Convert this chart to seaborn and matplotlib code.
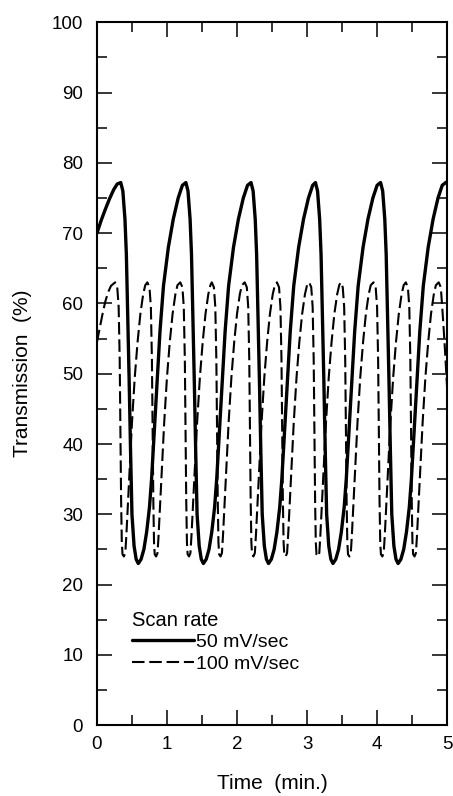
import matplotlib
matplotlib.use("Agg")
import matplotlib.pyplot as plt
from matplotlib.ticker import MultipleLocator
import seaborn as sns

# 50 mV/sec scan (solid)
solid_time = [
    0.00, 0.06, 0.12, 0.18, 0.24, 0.29, 0.34,
    0.37, 0.40, 0.42, 0.44, 0.46, 0.48, 0.50, 0.53, 0.56, 0.59,
    0.63, 0.67, 0.71, 0.75, 0.78, 0.82, 0.86, 0.90, 0.95, 1.02, 1.09, 1.16, 1.22, 1.27,
    1.30, 1.33, 1.35, 1.37, 1.39, 1.41, 1.43, 1.46, 1.49, 1.52,
    1.56, 1.60, 1.64, 1.68, 1.71, 1.75, 1.79, 1.83, 1.88, 1.95, 2.02, 2.09, 2.15, 2.20,
    2.23, 2.26, 2.28, 2.30, 2.32, 2.34, 2.36, 2.39, 2.42, 2.45,
    2.49, 2.53, 2.57, 2.61, 2.64, 2.68, 2.72, 2.76, 2.81, 2.88, 2.95, 3.02, 3.08, 3.12,
    3.15, 3.18, 3.20, 3.22, 3.24, 3.26, 3.28, 3.31, 3.34, 3.37,
    3.41, 3.45, 3.49, 3.53, 3.56, 3.60, 3.64, 3.68, 3.73, 3.80, 3.87, 3.94, 4.00, 4.05,
    4.08, 4.11, 4.13, 4.15, 4.17, 4.19, 4.21, 4.24, 4.27, 4.30,
    4.34, 4.38, 4.42, 4.46, 4.49, 4.53, 4.57, 4.61, 4.66, 4.73, 4.80, 4.87, 4.93, 4.98, 5.00,
]
solid_trans = [
    70.0, 71.8, 73.4, 74.9, 76.2, 77.0, 77.2,
    76.0, 72.0, 67.0, 58.0, 49.0, 39.0, 30.0, 25.5, 23.6, 23.0,
    23.6, 25.0, 27.5, 31.0, 35.0, 42.0, 49.0, 56.0, 62.5, 68.0, 72.0, 75.0, 76.8, 77.2,
    76.0, 72.0, 67.0, 58.0, 49.0, 39.0, 30.0, 25.5, 23.6, 23.0,
    23.6, 25.0, 27.5, 31.0, 35.0, 42.0, 49.0, 56.0, 62.5, 68.0, 72.0, 75.0, 76.8, 77.2,
    76.0, 72.0, 67.0, 58.0, 49.0, 39.0, 30.0, 25.5, 23.6, 23.0,
    23.6, 25.0, 27.5, 31.0, 35.0, 42.0, 49.0, 56.0, 62.5, 68.0, 72.0, 75.0, 76.8, 77.2,
    76.0, 72.0, 67.0, 58.0, 49.0, 39.0, 30.0, 25.5, 23.6, 23.0,
    23.6, 25.0, 27.5, 31.0, 35.0, 42.0, 49.0, 56.0, 62.5, 68.0, 72.0, 75.0, 76.8, 77.2,
    76.0, 72.0, 67.0, 58.0, 49.0, 39.0, 30.0, 25.5, 23.6, 23.0,
    23.6, 25.0, 27.5, 31.0, 35.0, 42.0, 49.0, 56.0, 62.5, 68.0, 72.0, 75.0, 76.8, 77.2, 77.3,
]

# 100 mV/sec scan (dashed)
dashed_time = [
    0.00, 0.04, 0.08, 0.12, 0.16, 0.20,
    0.26, 0.29, 0.31, 0.325, 0.335, 0.345, 0.355, 0.365, 0.385, 0.405, 0.42, 0.44, 0.47, 0.50, 0.54, 0.58, 0.62, 0.66, 0.69,
    0.72, 0.75, 0.77, 0.785, 0.795, 0.805, 0.815, 0.825, 0.845, 0.865, 0.88, 0.90, 0.93, 0.96, 1.00, 1.04, 1.08, 1.12, 1.15,
    1.19, 1.22, 1.24, 1.255, 1.265, 1.275, 1.285, 1.295, 1.315, 1.335, 1.35, 1.37, 1.40, 1.43, 1.47, 1.51, 1.55, 1.59, 1.62,
    1.64, 1.67, 1.69, 1.705, 1.715, 1.725, 1.735, 1.745, 1.765, 1.785, 1.80, 1.82, 1.85, 1.88, 1.92, 1.96, 2.00, 2.04, 2.07,
    2.11, 2.14, 2.16, 2.175, 2.185, 2.195, 2.205, 2.215, 2.235, 2.255, 2.27, 2.29, 2.32, 2.35, 2.39, 2.43, 2.47, 2.51, 2.54,
    2.57, 2.60, 2.62, 2.635, 2.645, 2.655, 2.665, 2.675, 2.695, 2.715, 2.73, 2.75, 2.78, 2.81, 2.85, 2.89, 2.93, 2.97, 3.00,
    3.03, 3.06, 3.08, 3.095, 3.105, 3.115, 3.125, 3.135, 3.155, 3.175, 3.19, 3.21, 3.24, 3.27, 3.31, 3.35, 3.39, 3.43, 3.46,
    3.48, 3.51, 3.53, 3.545, 3.555, 3.565, 3.575, 3.585, 3.605, 3.625, 3.64, 3.66, 3.69, 3.72, 3.76, 3.80, 3.84, 3.88, 3.91,
    3.95, 3.98, 4.00, 4.015, 4.025, 4.035, 4.045, 4.055, 4.075, 4.095, 4.11, 4.13, 4.16, 4.19, 4.23, 4.27, 4.31, 4.35, 4.38,
    4.41, 4.44, 4.46, 4.475, 4.485, 4.495, 4.505, 4.515, 4.535, 4.555, 4.57, 4.59, 4.62, 4.65, 4.69, 4.73, 4.77, 4.81, 4.84,
    4.88, 4.91, 4.93, 4.96, 5.00,
]
dashed_cycle = [63.0, 62.3, 59.5, 52.0, 42.0, 32.0, 26.0, 24.3, 24.0, 24.5,
                27.0, 31.0, 37.0, 43.0, 49.5, 54.5, 58.5, 61.3, 62.6]
dashed_trans = (
    [54.5, 56.5, 58.5, 60.3, 61.6, 62.5]
    + dashed_cycle * 10
    + [63.0, 62.3, 59.5, 55.0, 48.0]
)

x_ticks = [0, 1, 2, 3, 4, 5]
y_ticks = [0, 10, 20, 30, 40, 50, 60, 70, 80, 90, 100]

sns.set_style("ticks")
plt.rcParams['font.family'] = ['Liberation Sans', 'DejaVu Sans']
plt.rcParams['text.color'] = 'black'
plt.rcParams['axes.labelcolor'] = 'black'

fig, ax = plt.subplots(figsize=(4.53, 7.96), dpi=100)
fig.subplots_adjust(left=0.214, right=0.987, bottom=0.089, top=0.972)

sns.lineplot(x=solid_time, y=solid_trans, ax=ax, color='black', lw=2.4,
             estimator=None, sort=False, label='50 mV/sec')
sns.lineplot(x=dashed_time, y=dashed_trans, ax=ax, color='black', lw=1.5,
             estimator=None, sort=False, label='100 mV/sec')
ax.lines[-1].set_dashes((6, 2.3))

ax.set_xlim(0, 5)
ax.set_ylim(0, 100)
ax.set_xticks(x_ticks)
ax.set_yticks(y_ticks)
ax.xaxis.set_minor_locator(MultipleLocator(0.5))
ax.yaxis.set_minor_locator(MultipleLocator(5))
ax.tick_params(which='both', direction='in', top=True, right=True,
               width=1.1, colors='black', labelsize=13.5)
ax.tick_params(which='major', length=11)
ax.tick_params(which='minor', length=7)
ax.tick_params(axis='y', pad=10)
ax.tick_params(axis='x', pad=8)
for sp in ax.spines.values():
    sp.set_linewidth(1.5)
    sp.set_color('black')

ax.set_xlabel('Time  (min.)', fontsize=15, labelpad=15)
ax.set_ylabel('Transmission  (%)', fontsize=15, labelpad=14)

leg = ax.legend(title='Scan rate', loc='upper left', bbox_to_anchor=(0.1, 0.163),
                frameon=False, fontsize=14, title_fontsize=14.5,
                handlelength=3.2, handletextpad=0.1, labelspacing=0.2,
                borderpad=0, borderaxespad=0)
leg._legend_box.align = 'left'

fig.savefig('out.png', dpi=100)
